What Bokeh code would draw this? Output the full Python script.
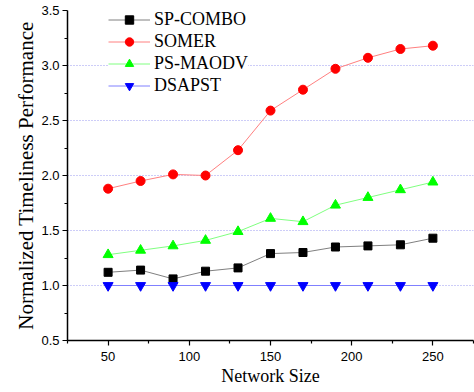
from bokeh.plotting import figure
from bokeh.models import FixedTicker, NumeralTickFormatter, Range1d, Legend
from bokeh.embed import file_html
from bokeh.resources import INLINE

network_size = [50, 70, 90, 110, 130, 150, 170, 190, 210, 230, 250]
sp_combo = [1.12, 1.14, 1.06, 1.13, 1.16, 1.29, 1.30, 1.35, 1.36, 1.37, 1.43]
somer = [1.88, 1.95, 2.01, 2.00, 2.23, 2.59, 2.78, 2.97, 3.07, 3.15, 3.18]
ps_maodv = [1.28, 1.32, 1.36, 1.41, 1.49, 1.61, 1.58, 1.73, 1.80, 1.87, 1.94]
dsapst = [1.0, 1.0, 1.0, 1.0, 1.0, 1.0, 1.0, 1.0, 1.0, 1.0, 1.0]

x_ticks = [50, 100, 150, 200, 250]
x_minor = [25, 75, 125, 175, 225, 275]
y_ticks = [0.5, 1.0, 1.5, 2.0, 2.5, 3.0, 3.5]
y_minor = [0.75, 1.25, 1.75, 2.25, 2.75, 3.25]
grid_ticks = [1.0, 1.5, 2.0, 2.5, 3.0]

p = figure(width=474, height=392, output_backend="svg", toolbar_location=None,
           x_range=Range1d(25, 275), y_range=Range1d(0.5, 3.5),
           min_border_left=67, min_border_right=1, min_border_top=10, min_border_bottom=52)
p.outline_line_color = None
p.background_fill_color = "white"

p.xgrid.visible = False
p.ygrid.ticker = FixedTicker(ticks=grid_ticks)
p.ygrid.grid_line_color = "#9a9af0"
p.ygrid.grid_line_dash = "1 2"
p.ygrid.grid_line_width = 1

for ax in (p.xaxis[0], p.yaxis[0]):
    ax.axis_line_width = 1.5
    ax.axis_line_color = "black"
    ax.major_tick_line_color = "black"
    ax.minor_tick_line_color = "black"
    ax.major_tick_line_width = 1.2
    ax.minor_tick_line_width = 1.2
    ax.major_tick_in = 0
    ax.major_tick_out = 5
    ax.minor_tick_in = 0
    ax.minor_tick_out = 3
    ax.major_label_text_font = "Liberation Sans"
    ax.major_label_text_font_size = "13px"
    ax.major_label_text_color = "black"
    ax.axis_label_text_font = "Liberation Serif"
    ax.axis_label_text_font_style = "normal"
    ax.axis_label_text_color = "black"

p.xaxis.ticker = FixedTicker(ticks=x_ticks, minor_ticks=x_minor)
p.yaxis.ticker = FixedTicker(ticks=y_ticks, minor_ticks=y_minor)
p.yaxis.formatter = NumeralTickFormatter(format="0.0")
p.xaxis.axis_label = "Network Size"
p.yaxis.axis_label = "Normalized Timeliness Performance"
p.xaxis.axis_label_text_font_size = "18px"
p.yaxis.axis_label_text_font_size = "21px"
p.xaxis.major_label_standoff = 6
p.yaxis.major_label_standoff = 3
p.xaxis.axis_label_standoff = 2
p.yaxis.axis_label_standoff = 0

series = [
    ("SP-COMBO", sp_combo, "#808080", "square", "black", 8),
    ("SOMER", somer, "#ff8080", "circle", "red", 9),
    ("PS-MAODV", ps_maodv, "#80ff80", "triangle", "#00ff00", 10),
    ("DSAPST", dsapst, "#8080ff", "inverted_triangle", "blue", 10),
]

items = []
for name, ys, lc, marker, mc, sz in series:
    r1 = p.line(network_size, ys, line_color=lc, line_width=1)
    r2 = p.scatter(network_size, ys, marker=marker, size=sz, fill_color=mc, line_color=mc)
    items.append((name, [r1, r2]))

legend = Legend(items=items, location=(41, 244), margin=0, padding=6, spacing=1,
                label_height=21, glyph_height=21, glyph_width=42, label_standoff=4,
                label_text_font="Liberation Serif", label_text_font_size="18px",
                label_text_color="black", border_line_color=None,
                background_fill_color="white", background_fill_alpha=1.0)
p.add_layout(legend, "center")

open("out.html", "w").write(file_html(p, INLINE))
